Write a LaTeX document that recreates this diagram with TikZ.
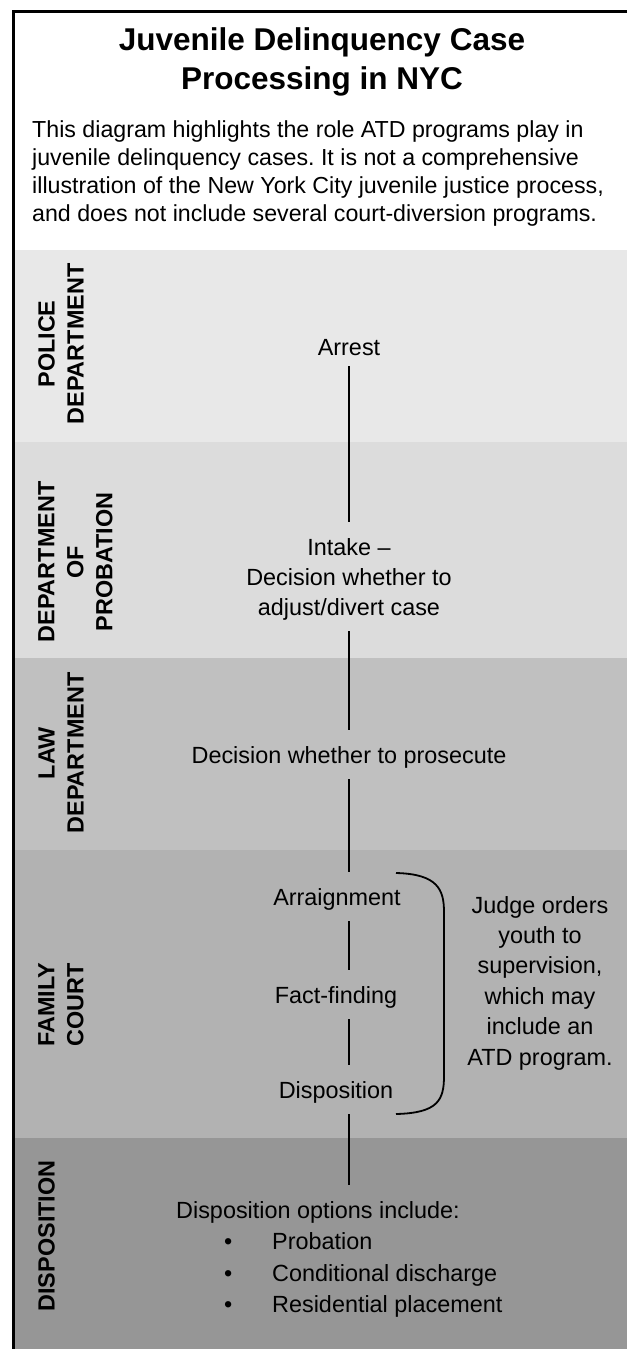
\documentclass[tikz,border=0pt]{standalone}
\usepackage{fontspec}
\setmainfont{Liberation Sans}
\frenchspacing
\definecolor{bpolice}{HTML}{E8E8E8}
\definecolor{bprob}{HTML}{DCDCDC}
\definecolor{blaw}{HTML}{C0C0C0}
\definecolor{bfam}{HTML}{B2B2B2}
\definecolor{bdisp}{HTML}{969696}
\begin{document}
\begin{tikzpicture}[x=1pt,y=-1pt,
  lab/.style={font=\bfseries\fontsize{23.4}{29}\selectfont, rotate=90, align=center, inner sep=0pt},
  proc/.style={font=\fontsize{23.4}{30}\selectfont, align=center, inner sep=0pt},
  link/.style={line width=1.8pt, shorten <=11pt, shorten >=16pt},
  frame/.style={line width=3pt, line join=miter}]
\useasboundingbox (0,0) rectangle (627,1349);
% bands
\fill[bpolice] (15,250) rectangle (627,442);
\fill[bprob]   (15,442) rectangle (627,658);
\fill[blaw]    (15,658) rectangle (627,850);
\fill[bfam]    (15,850) rectangle (627,1138);
\fill[bdisp]   (15,1138) rectangle (627,1349);
% frame
\draw[frame] (627,11) -- (13.5,11) -- (13.5,1349);
% title and note
\node[font=\bfseries\fontsize{31.5}{39}\selectfont, align=center, inner sep=0pt] (title) at (322,62) {Juvenile Delinquency Case\\Processing in NYC};
\node[font=\fontsize{23.2}{28}\selectfont, align=left, inner sep=0pt, anchor=north west] (note) at (32,120)
  {This diagram highlights the role ATD programs play in\\juvenile delinquency cases. It is not a comprehensive\\illustration of the New York City juvenile justice process,\\and does not include several court-diversion programs.};
% lane labels
\node[lab] (lpolice) at (61,344) {POLICE\\DEPARTMENT};
\node[lab] (lprob) at (75.5,562) {DEPARTMENT\\OF\\PROBATION};
\node[lab] (llaw) at (61,753) {LAW\\DEPARTMENT};
\node[lab] (lfam) at (61,1005) {FAMILY\\COURT};
\node[lab] (ldisp) at (46.5,1236) {DISPOSITION};
% process steps
\node[proc, anchor=base] (arrest) at (349,355) {Arrest};
\node[proc] (intake) at (349,579) {Intake –\\Decision whether to\\adjust/divert case};
\node[proc, anchor=base] (law) at (349,763) {Decision whether to prosecute};
\node[proc, anchor=base] (arr) at (337,905) {Arraignment};
\node[proc, anchor=base] (ff) at (336,1003) {Fact-finding};
\node[proc, anchor=base] (dispo) at (336,1098) {Disposition};
\node[proc, font=\fontsize{23.4}{31.5}\selectfont, align=left, anchor=north west] (dopt) at (176,1201)
  {Disposition options include:\\
   \hspace*{48pt}\makebox[48pt][l]{\textbullet}Probation\\
   \hspace*{48pt}\makebox[48pt][l]{\textbullet}Conditional discharge\\
   \hspace*{48pt}\makebox[48pt][l]{\textbullet}Residential placement};
\node[proc, font=\fontsize{23.4}{30.4}\selectfont] (judge) at (540,983)
  {Judge orders\\youth to\\supervision,\\which may\\include an\\ATD program.};
% connectors
\draw[link] (arrest.south) -- (intake.north);
\draw[link] (intake.south) -- (law.north);
\draw[link] (law.south) -- (law.south |- arr.north);
\draw[link] (arr.south -| arrest) -- (ff.north -| arrest);
\draw[link] (ff.south -| arrest) -- (dispo.north -| arrest);
\draw[link] (dispo.south -| arrest) -- (dopt.north -| arrest);
% brace
\draw[line width=1.8pt] (396,873) .. controls (438,874) and (444,890) .. (444,912)
  -- (444,1076) .. controls (444,1100) and (438,1113) .. (396,1114);
\end{tikzpicture}
\end{document}
